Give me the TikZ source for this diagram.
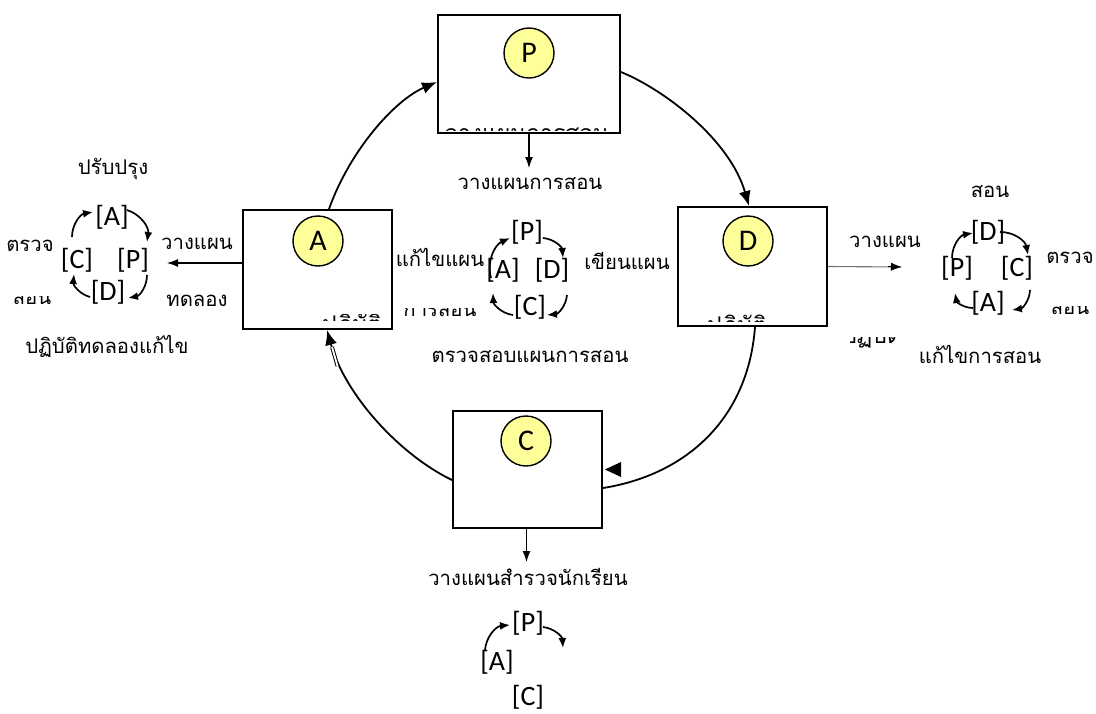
\documentclass[tikz,border=0pt]{standalone}
\usepackage{fontspec}
\setmainfont{Carlito}
\newfontfamily\thaifont[Script=Thai]{Loma}
\usetikzlibrary{arrows.meta}
\definecolor{badgeyellow}{HTML}{FFFF99}
\begin{document}
\begin{tikzpicture}[x=1pt,y=-1pt,
  stagebox/.style={draw,line width=2pt,fill=white,rectangle,inner sep=0pt},
  badge/.style={circle,draw,line width=1.4pt,fill=badgeyellow,minimum size=50pt,inner sep=0pt,font=\fontsize{30}{30}\selectfont},
  th/.style={font=\thaifont\fontsize{20.3}{24}\selectfont,inner sep=0pt},
  thbig/.style={font=\thaifont\fontsize{23}{26}\selectfont,inner sep=0pt},
  tag/.style={font=\fontsize{28}{28}\selectfont,inner sep=0pt},
  flow/.style={line width=1.8pt,-{Latex[length=15pt,width=12pt]}},
  loop/.style={line width=1.7pt,-{Latex[length=10pt,width=8pt]}},
  lead/.style={line width=1.1pt,-{Latex[length=11pt,width=8pt]}}
]
\useasboundingbox (0,0) rectangle (1096,713);

% the four stage boxes and their badges
\node[stagebox,minimum width=182pt,minimum height=118pt] (boxP) at (529,74) {};
\node[stagebox,minimum width=149pt,minimum height=119pt] (boxA) at (317.5,269.5) {};
\node[stagebox,minimum width=149pt,minimum height=119pt] (boxD) at (752.5,266.5) {};
\node[stagebox,minimum width=149pt,minimum height=117pt] (boxC) at (527.5,469.5) {};
\node[badge] (cP) at (529,53) {P};
\node[badge] (cA) at (318,241) {A};
\node[badge] (cD) at (748,241) {D};
\node[badge] (cC) at (526,441) {C};

% captions cut off by the box edges
\begin{scope}
  \clip (440,100) rectangle (618,130.5);
  \node[thbig,anchor=base] (capP) at (527,141) {วางแผนการสอน};
\end{scope}
\begin{scope}
  \clip (300,314) rectangle (390,320.5);
  \node[thbig,anchor=base] (capA) at (352,332) {ปฏิบัติ};
\end{scope}
\begin{scope}
  \clip (700,312) rectangle (800,321);
  \node[thbig,anchor=base] (capD) at (737,333) {ปฏิบัติ};
\end{scope}
\begin{scope}
  \clip (850,337) rectangle (895,347);
  \node[thbig,anchor=base] (capD2) at (872,343) {ปฏิบัติ};
\end{scope}

% main cycle
\draw[flow] ([xshift=11.5pt]boxA.north) .. controls (350,150) and (395,100) .. ([yshift=-8pt]boxP.west);
\draw[flow] ([yshift=2pt]boxP.east) .. controls (665,90) and (730,140) .. ([xshift=-3.5pt]boxD.north);
\draw[line width=1.8pt] ([xshift=2.5pt]boxD.south) .. controls (748,420) and (685,475) .. ([yshift=-18.5pt]boxC.east);
\fill (605,469.5) -- (621,462) -- (621,477) -- cycle;
\draw[flow] ([yshift=-10.5pt]boxC.west) .. controls (400,455) and (345,395) .. ([xshift=9.5pt]boxA.south);
\draw[double,double distance=1.8pt,line width=1pt] (337.5,366) -- (332,347);

% outputs of the boxes
\coordinate (pOut) at (529,168);
\coordinate (cOut) at (526.5,562);
\coordinate (aOut) at (167,263);
\coordinate (dOut) at (902,267);
\draw[lead] (boxP.south) -- (pOut);
\draw[lead] ([xshift=-1pt]boxC.south) -- (cOut);
\draw[lead] ([yshift=6.5pt]boxA.west) -- (aOut);
\draw[lead,black!55] (boxD.east) -- (dOut);
\draw[-{Latex[length=11pt,width=8pt]},line width=1.1pt] ([shift={(60,0)}]boxD.east) -- (dOut);

\node[th] (tPlan) at (530,184) {วางแผนการสอน};
\node[th] (tSurvey) at (528,577) {วางแผนสำรวจนักเรียน};
\node[th] (tCheck) at (530,357) {ตรวจสอบแผนการสอน};
\node[th] (tFix) at (440,257) {แก้ไขแผน};
\node[th] (tWrite) at (627,261) {เขียนแผน};
\begin{scope}
  \clip (395,308) rectangle (490,320);
  \node[th,anchor=base] (tFix2) at (440,316) {การสอน};
\end{scope}

% left small cycle
\node[th] (lTop) at (113,169) {ปรับปรุง};
\node[th] (lChk) at (30,246) {ตรวจ};
\node[th] (lPlan) at (197,244) {วางแผน};
\node[th] (lTry) at (197,301) {ทดลอง};
\node[th] (lBottom) at (107,346) {ปฏิบัติทดลองแก้ไข};
\begin{scope}
  \clip (5,296) rectangle (60,310);
  \node[th,anchor=base] (lChk2) at (32,304) {สอน};
\end{scope}
\node[tag] (lA) at (112,217) {[A]};
\node[tag] (lC) at (77,260) {[C]};
\node[tag] (lP) at (133,260) {[P]};
\node[tag] (lD) at (108,292) {[D]};
\draw[loop] ([shift={(-5,-23)}]lC.center) to[bend left=40] ([shift={(-19,-5)}]lA.center);
\draw[loop] ([shift={(15,-7)}]lA.center) to[bend left=40] ([shift={(14,-18)}]lP.center);
\draw[loop] ([shift={(14,15)}]lP.center) to[bend left=40] ([shift={(20,6)}]lD.center);
\draw[loop] ([shift={(-18,5)}]lD.center) to[bend left=40] ([shift={(-3,14)}]lC.center);

% centre small cycle
\node[tag] (mP) at (527,232) {[P]};
\node[tag] (mA) at (503,270) {[A]};
\node[tag] (mD) at (552,270) {[D]};
\node[tag] (mC) at (530,307) {[C]};
\draw[loop] ([shift={(-12,8)}]mA.center) to[bend left=40] ([shift={(-17,6)}]mP.center);
\draw[loop] ([shift={(16,6)}]mP.center) to[bend left=40] ([shift={(11,-12)}]mD.center);
\draw[loop] ([shift={(15,25)}]mD.center) to[bend left=40] ([shift={(17,8)}]mC.center);
\draw[loop] ([shift={(-17,8)}]mC.center) to[bend left=40] ([shift={(-10,23)}]mA.center);

% right small cycle
\node[th] (rTop) at (990,192) {สอน};
\node[th] (rPlan) at (885,242) {วางแผน};
\node[th] (rChk) at (1070,258) {ตรวจ};
\node[th] (rBottom) at (980,354) {แก้ไขการสอน};
\begin{scope}
  \clip (1045,306) rectangle (1096,320);
  \node[th,anchor=base] (rChk2) at (1070,314) {สอน};
\end{scope}
\node[tag] (rD) at (988,232) {[D]};
\node[tag] (rP) at (957,268) {[P]};
\node[tag] (rC) at (1017,268) {[C]};
\node[tag] (rA) at (988,303) {[A]};
\draw[loop] ([shift={(-5,-10)}]rP.center) to[bend left=40] ([shift={(-15,1)}]rD.center);
\draw[loop] ([shift={(12,0)}]rD.center) to[bend left=40] ([shift={(11,-13)}]rC.center);
\draw[loop] ([shift={(13,22)}]rC.center) to[bend left=40] ([shift={(24,7)}]rA.center);
\draw[loop] ([shift={(-15,5)}]rA.center) to[bend left=40] ([shift={(-2,25)}]rP.center);

% bottom small cycle
\node[tag] (bP) at (528,623) {[P]};
\node[tag] (bA) at (497,662) {[A]};
\node[tag] (bC) at (528,697) {[C]};
\coordinate (bFree) at (563,648);
\draw[loop] ([shift={(-12,-12)}]bA.center) to[bend left=40] ([shift={(-18,2)}]bP.center);
\draw[loop] ([shift={(15,4)}]bP.center) to[bend left=40] (bFree);
\end{tikzpicture}
\end{document}
